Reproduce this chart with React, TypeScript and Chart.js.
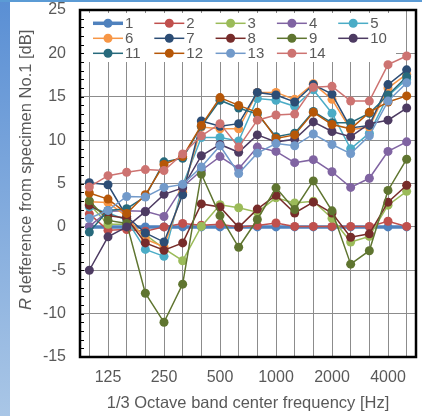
import React, { useEffect, useRef } from 'react';
import { Chart, registerables } from 'chart.js';

Chart.register(...registerables);

// 1/3 octave band centre frequencies [Hz]
const frequencies = ['100', '125', '160', '200', '250', '315', '400', '500', '630', '800', '1000', '1250', '1600', '2000', '2500', '3150', '4000', '5000'];
const shownTicks = ['125', '250', '500', '1000', '2000', '4000'];

const seriesNames = ['1', '2', '3', '4', '5', '6', '7', '8', '9', '10', '11', '12', '13', '14'];
const seriesColors = ['#4F81BD', '#C0504D', '#9BBB59', '#8064A2', '#4BACC6', '#F79646', '#2C4D75', '#772C2A', '#5F7530', '#4D3B62', '#276A7C', '#B65708', '#729ACA', '#CD7371'];

const s1 = [0, 0, 0, 0, 0, 0, 0, 0, 0, 0, 0, 0, 0, 0, 0, 0, 0, 0];
const s2 = [1.5, -0.4, -0.3, -0.5, 0.0, 0.4, 0.2, 0.3, 0.0, 0.15, 0.45, 0.05, 0.05, 0.05, 0.05, 0.05, 0.65, 0.05];
const s3 = [2.6, 0.3, 0.3, -0.9, -2.5, -3.9, 0.05, 2.55, 2.2, 1.7, 3.35, 2.75, 2.95, 1.0, -1.75, -1.1, 2.5, 4.1];
const s4 = [0.05, 1.8, 1.85, 1.8, 1.2, 4.6, 6.5, 8.1, 6.7, 9.2, 8.7, 7.4, 7.75, 6.35, 4.55, 5.6, 8.7, 9.8];
const s5 = [2.3, 1.6, 0.8, -2.6, -3.4, 4.8, 10.3, 10.3, 9.9, 14.8, 14.6, 13.9, 15.8, 13.1, 9.0, 10.8, 15.1, 17.0];
const s6 = [2.9, 2.8, 1.2, -1.4, -2.3, 4.0, 11.5, 11.3, 11.3, 15.5, 15.5, 14.7, 16.5, 14.7, 11.2, 11.5, 16.0, 17.6];
const s7 = [5.1, 4.85, 1.2, -0.7, -1.75, 3.7, 12.2, 11.6, 11.9, 15.5, 15.2, 14.4, 16.4, 15.3, 11.4, 11.7, 16.4, 18.1];
const s8 = [2.5, 1.3, 1.0, -1.85, -2.7, -1.85, 2.65, 2.3, -0.05, 2.05, 3.65, 1.6, 2.85, 1.6, -1.2, -0.8, 2.85, 4.8];
const s9 = [3.0, 0.75, 0.4, -7.65, -11.0, -6.6, 6.1, 1.3, -2.35, 0.85, 4.5, 2.0, 5.3, 1.85, -4.3, -2.75, 4.2, 7.8];
const s10 = [-5.0, -1.15, 0.0, 1.75, 3.75, 4.5, 8.2, 9.5, 8.6, 10.6, 9.8, 10.1, 12.1, 11.0, 10.4, 11.9, 12.3, 13.7];
const s11 = [-0.6, 1.9, 2.1, 3.5, 7.5, 7.9, 11.6, 14.6, 13.7, 13.0, 10.4, 10.8, 13.3, 12.0, 12.0, 13.1, 15.2, 17.3];
const s12 = [3.9, 3.2, 1.55, 3.7, 7.2, 8.1, 11.7, 14.9, 14.0, 13.2, 10.2, 10.6, 13.2, 11.8, 11.3, 13.2, 14.4, 15.1];
const s13 = [1.0, 1.9, 3.5, 3.45, 4.55, 4.9, 6.9, 9.35, 6.15, 8.5, 9.6, 9.35, 10.7, 9.5, 8.45, 10.5, 14.5, 16.6];
const s14 = [4.6, 5.9, 6.3, 6.6, 6.5, 8.4, 10.5, 11.9, 9.2, 12.3, 12.9, 13.0, 16.1, 16.2, 14.5, 14.5, 18.7, 19.7];

const seriesValues = [s1, s2, s3, s4, s5, s6, s7, s8, s9, s10, s11, s12, s13, s14];

const yMin = -15;
const yMax = 25;
const yStep = 5;

const xTitle = '1/3 Octave band center frequency [Hz]';
const yTitleItalic = 'R';
const yTitleRest = ' defference from specimen No.1 [dB]';

const FONT = '"Liberation Sans", Arial, sans-serif';
const TEXT = '#595959';
const GRID = '#8c8c8c';

export default function App() {
  const ref = useRef<HTMLCanvasElement>(null);

  useEffect(() => {
    const canvas = ref.current;
    if (!canvas) return;

    const datasets = seriesValues.map((vals, k) => ({
      label: seriesNames[k],
      data: vals,
      borderColor: seriesColors[k],
      backgroundColor: seriesColors[k],
      pointBackgroundColor: seriesColors[k],
      pointBorderColor: seriesColors[k],
      borderWidth: k === 0 ? 3.5 : 1.5,
      pointRadius: 4.5,
      pointBorderWidth: 0,
      tension: 0,
      order: seriesValues.length - 1 - k,
    }));

    const decor = {
      id: 'decor',
      beforeDatasetsDraw(chart: any) {
        const ctx = chart.ctx;
        const area = chart.chartArea;
        ctx.save();
        // legend box covering grid
        ctx.fillStyle = '#ffffff';
        ctx.fillRect(area.left + 2, area.top + 3, 396 - area.left - 2, 62 - area.top - 3);
        ctx.font = `15px ${FONT}`;
        ctx.textBaseline = 'middle';
        ctx.textAlign = 'left';
        seriesNames.forEach((name, k) => {
          const col = k % 5;
          const row = Math.floor(k / 5);
          const mx = 108 + 61.3 * col;
          const my = 23.3 + 15 * row;
          ctx.strokeStyle = seriesColors[k];
          ctx.lineWidth = k === 0 ? 3.5 : 1.5;
          ctx.beginPath();
          ctx.moveTo(mx - 15, my);
          ctx.lineTo(mx + 15, my);
          ctx.stroke();
          ctx.fillStyle = seriesColors[k];
          ctx.beginPath();
          ctx.arc(mx, my, 4.5, 0, Math.PI * 2);
          ctx.fill();
          ctx.fillStyle = TEXT;
          ctx.fillText(name, mx + 17, my + 0.5);
        });
        ctx.restore();
      },
      afterDraw(chart: any) {
        const ctx = chart.ctx;
        const area = chart.chartArea;
        const yScale = chart.scales.y;
        ctx.save();
        // minor ticks on the left axis
        ctx.strokeStyle = '#000';
        ctx.lineWidth = 1;
        for (let v = yMin; v <= yMax; v += 1) {
          const py = Math.round(yScale.getPixelForValue(v)) + 0.5;
          ctx.beginPath();
          ctx.moveTo(area.left, py);
          ctx.lineTo(area.left + 4, py);
          ctx.stroke();
        }
        // plot border
        ctx.lineWidth = 2.5;
        ctx.strokeStyle = '#000';
        ctx.strokeRect(area.left, area.top, area.right - area.left, area.bottom - area.top);

        // x title
        ctx.fillStyle = TEXT;
        ctx.font = `16.5px ${FONT}`;
        ctx.textAlign = 'center';
        ctx.textBaseline = 'middle';
        ctx.fillText(xTitle, (area.left + area.right) / 2, 403);

        // y title (rotated, italic R)
        ctx.translate(31, 310);
        ctx.rotate(-Math.PI / 2);
        ctx.textAlign = 'left';
        ctx.textBaseline = 'alphabetic';
        ctx.font = `italic 16.5px ${FONT}`;
        ctx.fillText(yTitleItalic, 0, 0);
        const w = ctx.measureText(yTitleItalic).width;
        ctx.font = `16.5px ${FONT}`;
        ctx.fillText(yTitleRest, w, 0);
        ctx.restore();
      },
    };

    const chart = new Chart(canvas, {
      type: 'line',
      data: { labels: frequencies, datasets: datasets as any },
      options: {
        animation: false,
        responsive: false,
        devicePixelRatio: 1,
        layout: { padding: { left: 0, right: 6, top: 10, bottom: 0 } },
        plugins: { legend: { display: false }, tooltip: { enabled: false } },
        scales: {
          x: {
            type: 'category',
            offset: true,
            grid: { color: GRID, lineWidth: 1, drawTicks: false, offset: false },
            border: { display: false },
            ticks: {
              autoSkip: false,
              maxRotation: 0,
              padding: 11,
              color: TEXT,
              font: { family: FONT, size: 16 },
              callback: (_v: any, i: number) => (shownTicks.includes(frequencies[i]) ? frequencies[i] : ''),
            },
            afterFit: (s: any) => {
              s.height = 59;
              s.paddingLeft = 0;
              s.paddingRight = 0;
            },
          },
          y: {
            min: yMin,
            max: yMax,
            grid: { color: GRID, lineWidth: 1, drawTicks: false },
            border: { display: false },
            ticks: {
              stepSize: yStep,
              padding: 14,
              color: TEXT,
              font: { family: FONT, size: 16 },
            },
            afterFit: (s: any) => {
              s.width = 80;
              s.paddingTop = 0;
              s.paddingBottom = 0;
            },
          },
        },
      } as any,
      plugins: [decor],
    });

    return () => chart.destroy();
  }, []);

  return (
    <div style={{ position: 'fixed', left: 0, top: 0, width: 422, height: 416, background: '#ffffff', overflow: 'hidden' }}>
      <div style={{ position: 'absolute', left: 0, top: 0, width: 10, height: 416, background: 'linear-gradient(#5a8fd4, #a9c6e6)' }} />
      <div style={{ position: 'absolute', left: 0, top: 0, width: 422, height: 2, background: '#5b9bd5' }} />
      <canvas ref={ref} width={422} height={416} style={{ position: 'absolute', left: 0, top: 0 }} />
    </div>
  );
}
